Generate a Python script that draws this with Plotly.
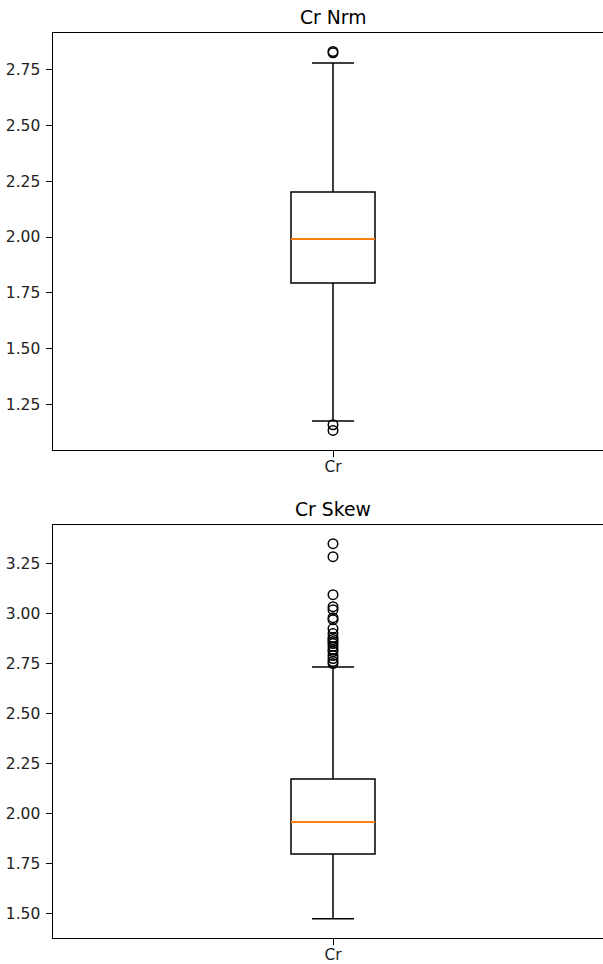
import plotly.graph_objects as go
from plotly.subplots import make_subplots

categories = ["Cr"]
titles = ["Cr Nrm", "Cr Skew"]

# Top panel (Cr Nrm) box statistics
nrm_q1 = [1.794]
nrm_median = [1.991]
nrm_q3 = [2.202]
nrm_lower = [1.174]
nrm_upper = [2.781]
nrm_outliers = [2.833, 2.827, 1.157, 1.132]

# Bottom panel (Cr Skew) box statistics
skew_q1 = [1.797]
skew_median = [1.957]
skew_q3 = [2.172]
skew_lower = [1.472]
skew_upper = [2.733]
skew_outliers = [3.35, 3.285, 3.095, 3.035, 3.02, 2.98, 2.97, 2.925, 2.90,
                 2.88, 2.87, 2.86, 2.85, 2.835, 2.82, 2.81, 2.79, 2.775,
                 2.76, 2.75]

yticks_top = [1.25, 1.50, 1.75, 2.00, 2.25, 2.50, 2.75]
yticks_bot = [1.50, 1.75, 2.00, 2.25, 2.50, 2.75, 3.00, 3.25]

fig = make_subplots(rows=2, cols=1)

def add_panel(row, q1, med, q3, lo, hi, outl):
    fig.add_trace(go.Box(
        x=categories, q1=q1, median=med, q3=q3, lowerfence=lo, upperfence=hi,
        width=0.15, whiskerwidth=0.5, boxpoints=False,
        line=dict(color="black", width=1.5), fillcolor="rgba(0,0,0,0)",
        showlegend=False, hoverinfo="skip"), row=row, col=1)
    fig.add_trace(go.Box(
        x=categories, q1=med, median=med, q3=med, lowerfence=med, upperfence=med,
        width=0.15, whiskerwidth=1.0, boxpoints=False,
        line=dict(color="#ff7f0e", width=2.0), fillcolor="rgba(0,0,0,0)",
        showlegend=False, hoverinfo="skip"), row=row, col=1)
    fig.add_trace(go.Scatter(
        x=categories * len(outl), y=outl, mode="markers",
        marker=dict(symbol="circle-open", size=9.5, color="black",
                    line=dict(width=1.5, color="black")),
        showlegend=False, hoverinfo="skip"), row=row, col=1)

add_panel(1, nrm_q1, nrm_median, nrm_q3, nrm_lower, nrm_upper, nrm_outliers)
add_panel(2, skew_q1, skew_median, skew_q3, skew_lower, skew_upper, skew_outliers)

font = dict(family="DejaVu Sans", size=15.5, color="#222222")
axis_common = dict(showline=True, linecolor="black", linewidth=1.2,
                   showgrid=False, zeroline=False, ticks="outside", ticklen=5.5,
                   tickwidth=1.2, tickcolor="black", tickfont=font,
                   automargin=False)

# plot area ends at the window edge; the axes box continues past it
xrange = [-0.5, -0.5 + 550 / 560]

fig.update_layout(
    width=603, height=964, margin=dict(l=53, r=0, t=33, b=26),
    plot_bgcolor="white", paper_bgcolor="white", font=font,
    boxmode="overlay",
    xaxis=dict(domain=[0, 1], range=xrange, type="category", mirror=True,
               ticklabelstandoff=-3, **axis_common),
    xaxis2=dict(domain=[0, 1], range=xrange, type="category", mirror=True,
                ticklabelstandoff=-3, **axis_common),
    yaxis=dict(domain=[0.5392, 1.0], range=[1.044, 2.916], tickvals=yticks_top,
               ticktext=[f"{v:.2f}" for v in yticks_top], mirror=False,
               ticklabelstandoff=3, **axis_common),
    yaxis2=dict(domain=[0.0, 0.4564], range=[1.376, 3.444], tickvals=yticks_bot,
                ticktext=[f"{v:.2f}" for v in yticks_bot], mirror=False,
                ticklabelstandoff=3, **axis_common),
    annotations=[
        dict(text=titles[0], x=categories[0], y=1.0, xref="x", yref="y domain",
             yanchor="bottom", yshift=3, showarrow=False,
             font=dict(family="DejaVu Sans", size=18.8, color="black")),
        dict(text=titles[1], x=categories[0], y=1.0, xref="x2", yref="y2 domain",
             yanchor="bottom", yshift=3, showarrow=False,
             font=dict(family="DejaVu Sans", size=18.8, color="black")),
    ],
)

fig.write_html("out.html")
